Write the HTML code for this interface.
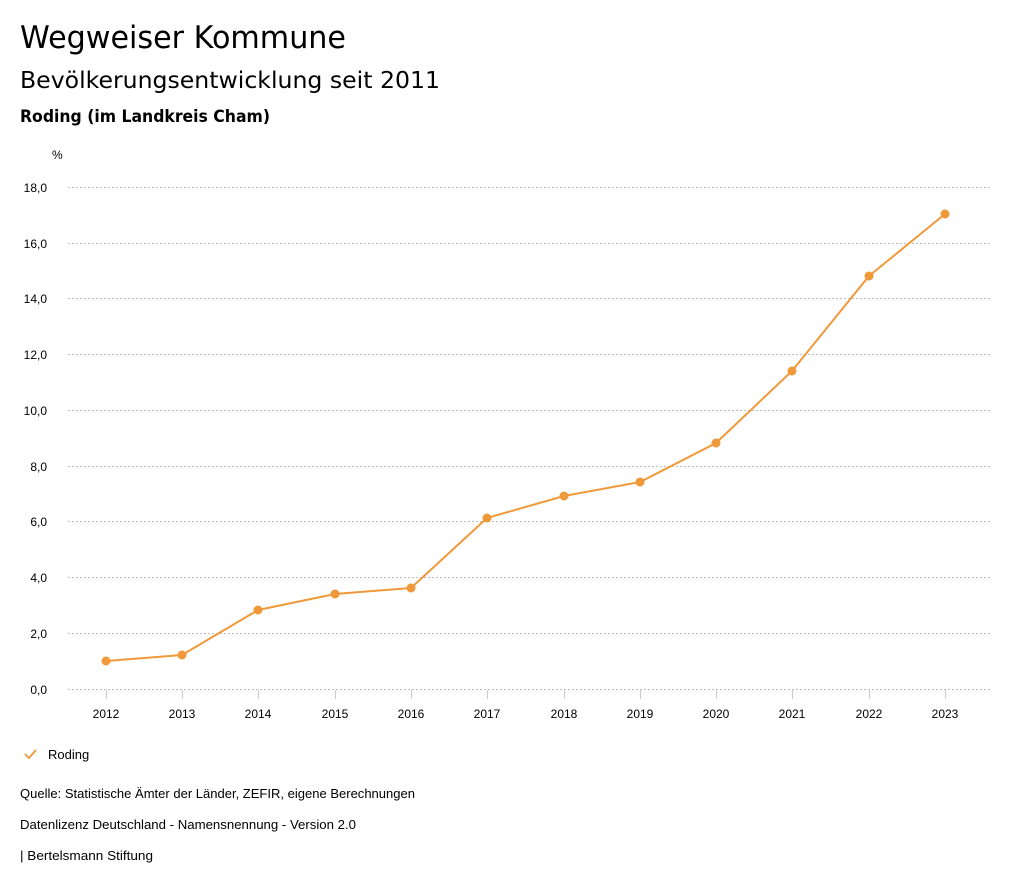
<!DOCTYPE html>
<html><head><meta charset="utf-8"><style>
body{margin:0;background:#fff;}
svg text{font-family:"Liberation Sans",sans-serif;fill:#000;}
</style></head><body>
<svg width="1024" height="888" xmlns="http://www.w3.org/2000/svg">
<text x="20" y="48" font-size="31" textLength="326" lengthAdjust="spacingAndGlyphs" style="font-family:'DejaVu Sans',sans-serif">Wegweiser Kommune</text>
<text x="20" y="88" font-size="23" textLength="420" lengthAdjust="spacingAndGlyphs" style="font-family:'DejaVu Sans',sans-serif">Bevölkerungsentwicklung seit 2011</text>
<text x="20" y="122" font-size="17" textLength="250" lengthAdjust="spacingAndGlyphs" style="font-family:'DejaVu Sans',sans-serif;font-weight:bold">Roding (im Landkreis Cham)</text>
<text x="52" y="159" font-size="12">%</text>
<g stroke="#bbb" stroke-dasharray="2,2" stroke-width="1">
<line x1="68" x2="990" y1="187.5" y2="187.5"/><line x1="68" x2="990" y1="243.5" y2="243.5"/>
<line x1="68" x2="990" y1="298.5" y2="298.5"/><line x1="68" x2="990" y1="354.5" y2="354.5"/>
<line x1="68" x2="990" y1="410.5" y2="410.5"/><line x1="68" x2="990" y1="466.5" y2="466.5"/>
<line x1="68" x2="990" y1="521.5" y2="521.5"/><line x1="68" x2="990" y1="577.5" y2="577.5"/>
<line x1="68" x2="990" y1="633.5" y2="633.5"/><line x1="68" x2="990" y1="689.5" y2="689.5"/>
</g>
<g font-size="12" text-anchor="end">
<text x="47" y="192">18,0</text><text x="47" y="248">16,0</text><text x="47" y="303">14,0</text>
<text x="47" y="359">12,0</text><text x="47" y="415">10,0</text><text x="47" y="471">8,0</text>
<text x="47" y="526">6,0</text><text x="47" y="582">4,0</text><text x="47" y="638">2,0</text>
<text x="47" y="694">0,0</text>
</g>
<g stroke="#ccc">
<line x1="106.5" x2="106.5" y1="690" y2="699"/><line x1="182.5" x2="182.5" y1="690" y2="699"/>
<line x1="258.5" x2="258.5" y1="690" y2="699"/><line x1="335.5" x2="335.5" y1="690" y2="699"/>
<line x1="411.5" x2="411.5" y1="690" y2="699"/><line x1="487.5" x2="487.5" y1="690" y2="699"/>
<line x1="564.5" x2="564.5" y1="690" y2="699"/><line x1="640.5" x2="640.5" y1="690" y2="699"/>
<line x1="716.5" x2="716.5" y1="690" y2="699"/><line x1="792.5" x2="792.5" y1="690" y2="699"/>
<line x1="869.5" x2="869.5" y1="690" y2="699"/><line x1="945.5" x2="945.5" y1="690" y2="699"/>
</g>
<g font-size="12" text-anchor="middle">
<text x="106" y="718">2012</text><text x="182" y="718">2013</text><text x="258" y="718">2014</text>
<text x="335" y="718">2015</text><text x="411" y="718">2016</text><text x="487" y="718">2017</text>
<text x="564" y="718">2018</text><text x="640" y="718">2019</text><text x="716" y="718">2020</text>
<text x="792" y="718">2021</text><text x="869" y="718">2022</text><text x="945" y="718">2023</text>
</g>
<polyline fill="none" stroke="#f0993a" stroke-width="2" points="106,661 182,655 258,610 335,594 411,588 487,518 564,496 640,482 716,443 792,371 869,276 945,214"/>
<g fill="#f0993a">
<circle cx="106" cy="661" r="4.5"/><circle cx="182" cy="655" r="4.5"/><circle cx="258" cy="610" r="4.5"/>
<circle cx="335" cy="594" r="4.5"/><circle cx="411" cy="588" r="4.5"/><circle cx="487" cy="518" r="4.5"/>
<circle cx="564" cy="496" r="4.5"/><circle cx="640" cy="482" r="4.5"/><circle cx="716" cy="443" r="4.5"/>
<circle cx="792" cy="371" r="4.5"/><circle cx="869" cy="276" r="4.5"/><circle cx="945" cy="214" r="4.5"/>
</g>
<polyline fill="none" stroke="#f0993a" stroke-width="1.8" points="25,754 29,758 36,750"/>
<text x="48" y="759" font-size="13">Roding</text>
<text x="20" y="798" font-size="12.5" textLength="395" lengthAdjust="spacingAndGlyphs">Quelle: Statistische Ämter der Länder, ZEFIR, eigene Berechnungen</text>
<text x="20" y="829" font-size="12.5" textLength="336" lengthAdjust="spacingAndGlyphs">Datenlizenz Deutschland - Namensnennung - Version 2.0</text>
<text x="20" y="860" font-size="12.5" textLength="133" lengthAdjust="spacingAndGlyphs">| Bertelsmann Stiftung</text>
</svg>
</body></html>
